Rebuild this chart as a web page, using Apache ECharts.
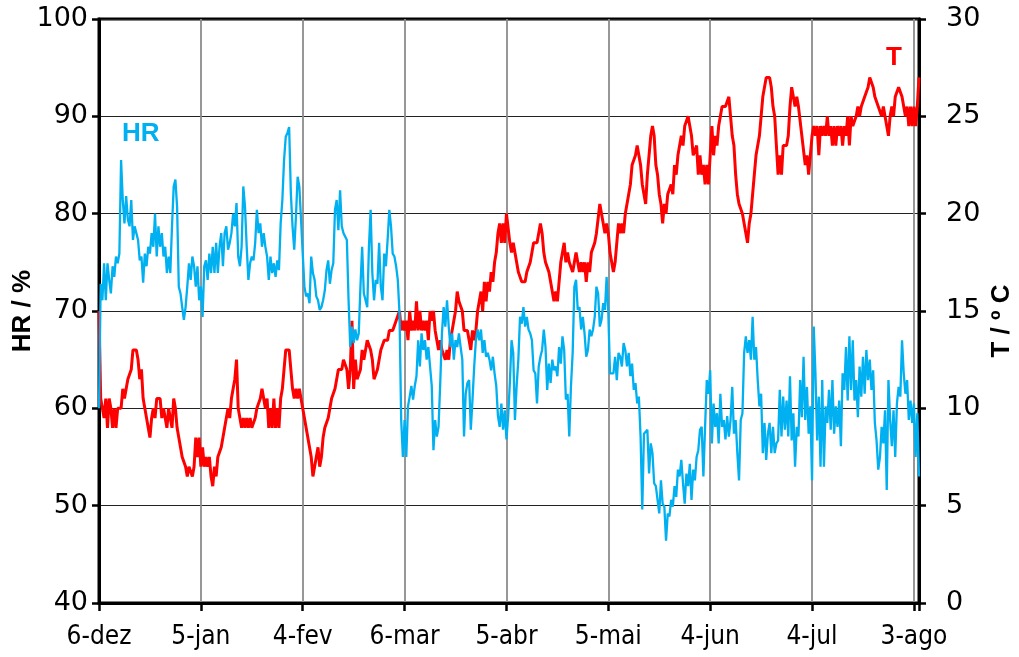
<!DOCTYPE html>
<html>
<head>
<meta charset="utf-8">
<script src="https://cdn.jsdelivr.net/npm/echarts@6/dist/echarts.min.js"></script>
<style>
  html, body { margin: 0; padding: 0; background: #fff; }
  #chart { width: 1019px; height: 657px; }
</style>
</head>
<body>
<div id="chart"></div>
<script>
// x axis: days since 6-dez; one tick label every 30 days
const tickLabels = ['6-dez', '5-jan', '4-fev', '6-mar', '5-abr', '5-mai', '4-jun', '4-jul', '3-ago'];
const STEP = 0.5; // days between readings
const segStartDays = [0, 41, 81, 121, 161, 200];

// HR / % (left axis) in six segments
const hrSeg1 = [60, 72.8, 71.1, 74.9, 71.1, 74.9, 73.2, 71.8, 74.6, 73.5, 75.6, 74.9, 75.9, 85.5, 81.4, 79.0, 81.8, 79.4, 78.7, 81.4, 77.3, 78.7, 78.0, 77.3, 75.2, 75.6, 72.9, 75.9, 74.6, 76.6, 75.9, 78.0, 76.6, 80.0, 75.6, 78.7, 76.6, 78.0, 75.6, 76.6, 73.9, 75.6, 73.9, 78.7, 82.8, 83.5, 80.7, 72.5, 71.8, 70.4, 69.1, 70.4, 72.5, 74.9, 73.2, 75.6, 74.6, 72.5, 74.6, 71.1, 72.5, 69.4, 74.6, 75.2, 73.2, 75.9, 73.9, 76.6, 73.9, 77.0, 73.9, 76.6, 78.0, 74.6, 78.0, 78.7, 76.3, 77.0, 78.0, 80.0, 78.7, 81.1];
const hrSeg2 = [75.6, 74.6, 76.6, 82.8, 80.7, 76.6, 73.2, 74.9, 75.6, 75.2, 77.0, 80.4, 78.0, 79.0, 76.6, 78.0, 76.6, 75.6, 73.2, 75.6, 73.9, 74.9, 73.5, 75.2, 74.2, 79.0, 81.4, 85.5, 87.9, 88.3, 88.9, 82.1, 78.7, 76.3, 79.7, 83.8, 82.8, 79.4, 75.9, 72.5, 71.5, 71.8, 70.8, 75.6, 73.9, 73.2, 71.5, 71.1, 70.1, 70.4, 71.1, 72.1, 74.2, 75.2, 72.8, 74.2, 74.9, 80.4, 81.4, 78.3, 82.4, 78.7, 78.0, 78.0, 77.3, 71.1, 66.3, 68.4, 66.7, 68.1, 67.0, 67.7, 72.5, 76.6, 71.8, 71.1, 70.4, 76.6, 80.4, 73.9];
const hrSeg3 = [71.1, 73.2, 72.8, 77.0, 72.5, 71.1, 75.9, 74.6, 77.3, 80.4, 78.7, 75.9, 75.6, 74.6, 73.2, 69.8, 58.8, 55.0, 58.8, 55.0, 60.2, 61.2, 62.3, 60.9, 62.3, 63.3, 67.0, 64.3, 67.7, 66.0, 67.0, 65.0, 66.3, 64.3, 62.3, 55.7, 58.8, 57.1, 58.1, 62.6, 67.7, 70.4, 68.4, 71.1, 68.4, 66.3, 67.7, 65.0, 67.0, 66.3, 67.7, 66.3, 65.0, 57.1, 61.5, 62.6, 62.9, 57.8, 60.9, 64.3, 67.0, 68.1, 67.0, 68.1, 65.7, 67.0, 65.3, 65.7, 65.0, 63.9, 65.3, 63.6, 62.3, 59.2, 58.1, 60.5, 57.8, 59.8, 56.8, 59.2];
const hrSeg4 = [62.6, 67.0, 65.7, 58.8, 62.3, 65.0, 69.4, 68.7, 70.4, 68.4, 69.4, 68.1, 67.7, 67.0, 63.9, 63.6, 60.5, 64.3, 65.3, 66.0, 68.1, 66.3, 61.9, 64.6, 62.6, 65.0, 63.9, 64.3, 63.3, 66.3, 64.6, 67.4, 66.0, 60.9, 61.5, 57.1, 62.3, 65.7, 72.5, 73.2, 70.1, 70.4, 68.1, 69.4, 67.7, 65.3, 66.0, 68.1, 67.4, 68.1, 69.4, 72.5, 71.8, 68.4, 69.1, 70.8, 70.1, 73.5, 69.8, 63.6, 63.6, 63.6, 65.3, 62.9, 65.7, 65.3, 64.3, 66.7, 66.0, 64.3, 65.7, 63.3, 64.6, 61.9, 62.6, 60.5, 61.2, 57.1, 49.6, 57.4];
const hrSeg5 = [57.6, 57.8, 53.3, 56.4, 55.4, 52.3, 52.0, 50.6, 49.2, 52.6, 50.2, 49.9, 46.4, 49.2, 48.9, 50.6, 49.9, 52.0, 50.9, 53.7, 53.0, 54.7, 52.3, 50.2, 53.3, 52.0, 54.3, 50.6, 53.7, 52.6, 55.0, 55.7, 57.8, 58.1, 53.0, 58.1, 62.9, 61.5, 63.9, 56.4, 60.5, 58.1, 59.5, 56.4, 61.5, 58.1, 58.8, 56.8, 59.2, 57.1, 58.8, 62.2, 57.4, 58.8, 55.4, 52.6, 58.8, 59.5, 65.7, 67.4, 65.7, 67.0, 65.0, 69.4, 65.0, 66.3, 62.9, 60.2, 61.5, 55.4, 58.5, 54.7, 57.4, 58.5, 55.4, 58.1, 55.4, 56.4];
const hrSeg6 = [56.7, 61.9, 57.1, 61.2, 57.8, 60.8, 57.1, 63.3, 56.7, 59.5, 54.0, 58.1, 57.1, 62.9, 59.1, 65.3, 58.8, 62.2, 57.4, 60.2, 52.6, 68.4, 63.6, 56.7, 61.2, 54.0, 62.9, 54.0, 60.2, 58.5, 61.9, 57.8, 62.9, 57.4, 60.2, 58.1, 60.8, 56.1, 63.6, 61.9, 66.3, 60.8, 67.4, 61.9, 67.0, 60.8, 62.9, 59.1, 64.3, 61.2, 65.3, 61.5, 66.0, 62.9, 65.0, 61.9, 63.9, 58.5, 56.7, 53.7, 55.0, 58.1, 56.4, 59.8, 51.6, 62.9, 58.8, 56.1, 59.8, 55.0, 60.5, 62.2, 61.2, 67.0, 63.6, 61.5, 62.9, 58.8, 60.8, 58.5, 60.5, 55.0, 59.5, 53.0];

// T / º C (right axis)
const tSeg1 = [15, 10.5, 10, 9.5, 10.5, 9, 10.5, 10, 9, 10, 9, 10, 10, 10, 11, 10.5, 11, 11.5, 11.5, 12, 13, 13, 13, 12.5, 11.5, 12, 10.5, 10, 9.5, 9, 8.5, 9.5, 10, 9.5, 10.5, 10.5, 10.5, 9.5, 10, 9.5, 9, 10, 9.5, 9, 10.5, 10, 9, 8.5, 8, 7.5, 7.5, 7, 6.5, 7, 7, 6.5, 7, 8.5, 7.5, 8.5, 7, 8, 7, 7.5, 7, 7.5, 6.5, 6, 7, 6.5, 7.5, 7.5, 8, 8.5, 9, 9, 10, 9.5, 10.5, 11, 11.5, 12.5];
const tSeg2 = [10, 9.5, 9, 9.5, 9, 9.5, 9, 9.5, 9, 9, 9.5, 10, 10, 10.5, 11, 10.5, 10, 10.5, 9, 10, 9, 10.5, 9, 10, 9, 10.5, 11, 12, 13, 13, 13, 12, 11, 10.5, 11, 10.5, 11, 10.5, 10, 9.5, 9, 9, 8, 7.5, 6.5, 7, 7.5, 8, 7, 7.5, 8.5, 9, 9, 9.5, 10, 10.5, 10.5, 11, 11.5, 12, 12, 12, 12.5, 12.5, 12, 11, 12, 14.5, 11, 12.5, 11.5, 11.5, 12, 13, 12.5, 13, 13.5, 13.5, 13, 12.5];
const tSeg3 = [11.5, 11.5, 12, 12.5, 13, 13, 13.5, 13.5, 13.5, 14, 14, 14, 14, 14.5, 14.5, 15, 14, 14.5, 14, 14.5, 13.5, 15, 14, 14.5, 14, 15.5, 14, 15, 14, 14.5, 14, 14.5, 13.5, 15, 14.5, 15, 14, 13.5, 13, 13.5, 13, 13, 12.5, 13, 12.5, 13.5, 14, 14.5, 15, 16, 15.5, 15.5, 15, 14, 14, 14, 13.5, 13, 14, 13.5, 14, 15, 15.5, 16, 15, 16.5, 15.5, 16.5, 16, 17, 16.5, 17.5, 18, 19, 19.5, 18.5, 19.5, 18.5, 20, 20];
const tSeg4 = [18.5, 18, 18.5, 18.5, 17.5, 17, 17, 16.5, 16.5, 16.5, 17, 17, 17.5, 18, 18.5, 18.5, 18.5, 19, 19.5, 19, 18, 17.5, 17.5, 17, 16.5, 16, 15.5, 16, 15.5, 16.5, 17.5, 17.5, 18.5, 17.5, 18, 17.5, 17.5, 17, 17.5, 18, 17.5, 17, 17.5, 17, 17.5, 16.5, 17.5, 17, 18, 18, 18.5, 19, 19, 20.5, 20, 20, 19, 19.5, 19, 18, 17.5, 17, 17.5, 18.5, 19.5, 19, 19.5, 19, 20, 20.5, 21, 21.5, 22.5, 22.5, 23, 23.5, 23, 22.5, 21.5, 21.5];
const tSeg5 = [20.5, 22, 22, 24, 24.5, 24, 22.5, 22, 21, 20.5, 19.5, 20.5, 20, 21, 21, 21.5, 21, 22.5, 22, 23, 23, 24, 23.5, 24.5, 24.5, 25, 24.5, 24, 23, 23, 23.5, 22, 23, 22, 22.5, 21.5, 22.5, 21.5, 23, 24.5, 23, 24, 23.5, 24.5, 25, 25.5, 25.5, 25.5, 25.5, 26, 25, 24, 23.5, 22, 21, 20.5, 20.5, 20, 19.5, 19.5, 18.5, 19.5, 20, 21, 22, 23, 23.5, 24, 25, 26, 26, 27, 27, 27, 26.5, 25.5, 25, 23.5];
const tSeg6 = [22, 23, 22, 23.5, 23.5, 23.5, 24, 25.5, 26.5, 26.5, 25.5, 26, 25.5, 25.5, 24, 24, 22.5, 23, 22, 23, 24, 24.5, 24, 24.5, 23, 24.5, 24, 24.5, 24, 25, 24, 24.5, 23.5, 24.5, 23.5, 24.5, 24, 24.5, 23.5, 24.5, 24, 25, 23.5, 25, 24.5, 24.5, 25, 25.5, 25, 25.5, 25.5, 26, 26, 26.5, 27, 27, 26.5, 26, 26, 25.5, 25.5, 25, 25.5, 25, 24.5, 24, 25, 25.5, 25, 26, 26, 26.5, 26.5, 26, 26, 25, 25.5, 24.5, 25.5, 24.5, 25.5, 24.5, 25.5, 27];

function build(segs) {
  const out = [];
  segs.forEach((vals, s) => {
    vals.forEach((v, i) => out.push([segStartDays[s] + i * STEP, v]));
  });
  return out;
}
const hrData = build([hrSeg1, hrSeg2, hrSeg3, hrSeg4, hrSeg5, hrSeg6]);
const tData = build([tSeg1, tSeg2, tSeg3, tSeg4, tSeg5, tSeg6]);

const BLUE = '#00B0F0';
const RED = '#FF0000';
const nameFont = { fontFamily: '"Liberation Sans", Arial, sans-serif', fontWeight: 'bold', fontSize: 26, color: '#000' };
const tickFont = { fontFamily: '"DejaVu Sans", Verdana, sans-serif', fontSize: 27, color: '#000' };

const chart = echarts.init(document.getElementById('chart'), null, { renderer: 'canvas' });
chart.setOption({
  animation: false,
  backgroundColor: '#fff',
  grid: {
    left: 99, right: 100, top: 19, bottom: 54, containLabel: false, outerBoundsMode: 'none',
    show: true, borderColor: '#000', borderWidth: 3, backgroundColor: 'transparent'
  },
  xAxis: {
    type: 'value', min: 0, max: 241.5, interval: 30,
    axisLine: { show: true, onZero: false, lineStyle: { color: '#000', width: 3 } },
    axisTick: { show: true, length: 8, lineStyle: { color: '#000', width: 2.5 } },
    axisLabel: {
      fontFamily: '"Liberation Sans Narrow", "DejaVu Sans Condensed", "Liberation Sans", sans-serif',
      fontSize: 26, color: '#000', margin: 21,
      formatter: v => (v % 30 === 0 ? tickLabels[v / 30] : '')
    },
    splitLine: { show: true, lineStyle: { color: '#8c8c8c', width: 1.8 } }
  },
  yAxis: [
    {
      type: 'value', min: 40, max: 100, interval: 10, position: 'left',
      name: 'HR / %', nameLocation: 'middle', nameRotate: 90, nameGap: 63, nameMoveOverlap: false,
      nameTextStyle: nameFont,
      axisLine: { show: true, lineStyle: { color: '#000', width: 3 } },
      axisTick: { show: true, length: 7, lineStyle: { color: '#000', width: 2.5 } },
      axisLabel: Object.assign({ margin: 11 }, tickFont),
      splitLine: { show: true, lineStyle: { color: '#222', width: 1.2 } }
    },
    {
      type: 'value', min: 0, max: 30, interval: 5, position: 'right',
      name: 'T / º C', nameLocation: 'middle', nameRotate: 90, nameGap: 70, nameMoveOverlap: false,
      nameTextStyle: Object.assign({ padding: [0, 20, 0, 0] }, nameFont),
      axisLine: { show: true, lineStyle: { color: '#000', width: 3 } },
      axisTick: { show: true, length: 7, lineStyle: { color: '#000', width: 2.5 } },
      axisLabel: Object.assign({ margin: 27 }, tickFont),
      splitLine: { show: false }
    }
  ],
  series: [
    {
      name: 'T', type: 'line', yAxisIndex: 1, data: tData, showSymbol: false, symbol: 'none',
      lineStyle: { color: RED, width: 3 }, itemStyle: { color: RED }, z: 3
    },
    {
      name: 'HR', type: 'line', yAxisIndex: 0, data: hrData, showSymbol: false, symbol: 'none',
      lineStyle: { color: BLUE, width: 2.3 }, itemStyle: { color: BLUE }, z: 4
    }
  ],
  graphic: [
    { type: 'text', left: 122, top: 121, z: 10, style: { text: 'HR', fill: BLUE, font: 'bold 26px "Liberation Sans", Arial, sans-serif' } },
    { type: 'text', left: 886, top: 45, z: 10, style: { text: 'T', fill: RED, font: 'bold 26px "Liberation Sans", Arial, sans-serif' } }
  ]
});
</script>
</body>
</html>
